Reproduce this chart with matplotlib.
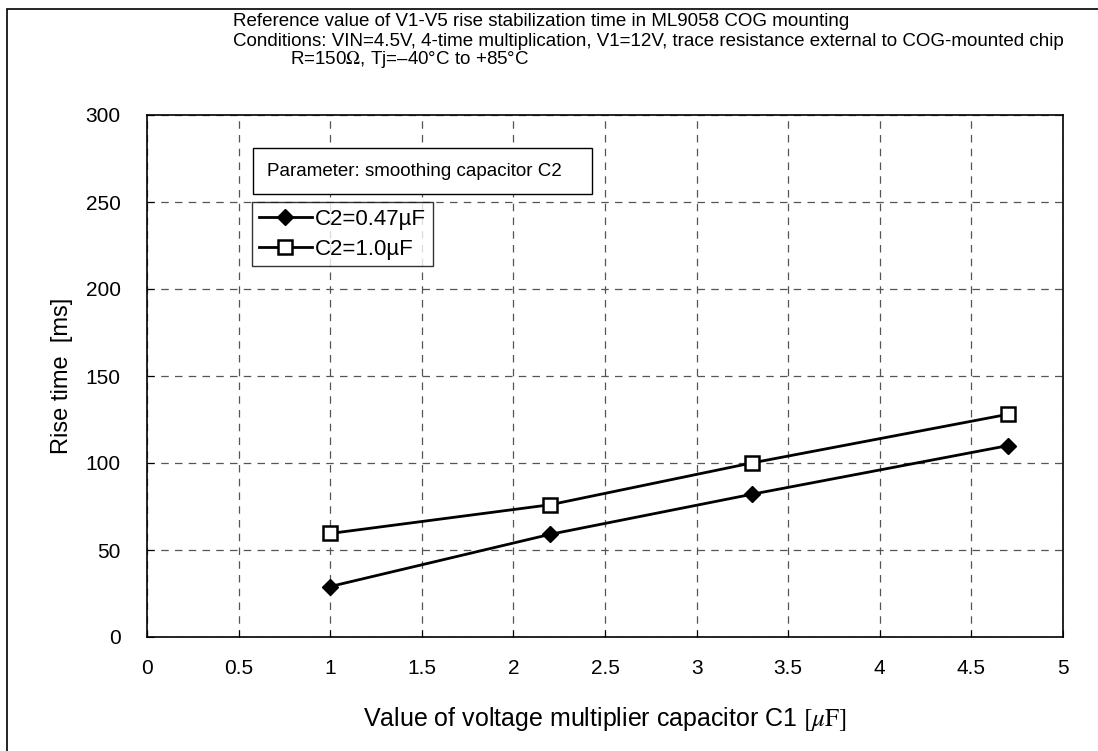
import matplotlib.pyplot as plt
from matplotlib.patches import Rectangle

plt.rcParams['font.family'] = ['Liberation Sans', 'DejaVu Sans']
plt.rcParams['mathtext.fontset'] = 'stix'

# Data
c1_values = [1.0, 2.2, 3.3, 4.7]
rise_047 = [29, 59, 82, 110]
rise_100 = [59.5, 76, 100, 128]
series_labels = ['C2=0.47\u00b5F', 'C2=1.0\u00b5F']
x_ticks = [0, 0.5, 1, 1.5, 2, 2.5, 3, 3.5, 4, 4.5, 5]
y_ticks = [0, 50, 100, 150, 200, 250, 300]

fig = plt.figure(figsize=(10.98, 7.51), dpi=100)
ax = fig.add_axes([147 / 1098, 1 - 637 / 751, (1063 - 147) / 1098, (637 - 115) / 751])

# outer frame of the figure
fig.patches.append(Rectangle((7 / 1098, -0.05), 1.1, 1 - 9 / 751 + 0.05,
                             transform=fig.transFigure, fill=False,
                             edgecolor='black', linewidth=1.2))

ax.plot(c1_values, rise_047, color='black', linewidth=2, marker='D',
        markersize=8, markerfacecolor='black', label=series_labels[0], zorder=3)
ax.plot(c1_values, rise_100, color='black', linewidth=2, marker='s',
        markersize=10, markerfacecolor='white', markeredgewidth=1.8,
        label=series_labels[1], zorder=3)

ax.set_xlim(0, 5)
ax.set_ylim(0, 300)
ax.set_xticks(x_ticks)
ax.set_xticklabels([('%g' % t) for t in x_ticks])
ax.set_yticks(y_ticks)
ax.tick_params(direction='in', length=5, labelsize=15, colors='black')
ax.tick_params(axis='y', pad=19)
ax.tick_params(axis='x', pad=16)

ax.grid(True, color='#555555', linestyle=(0, (6, 5)), linewidth=0.9)
for s in ax.spines.values():
    s.set_linewidth(1.2)

ax.set_xlabel('Value of voltage multiplier capacitor C1 $[\\mu\\mathrm{F}]$',
              fontsize=18, labelpad=19)
ax.set_ylabel('Rise time  [ms]', fontsize=17, labelpad=9)

leg = ax.legend(loc='upper left', bbox_to_anchor=((252 - 147) / 916, (637 - 202) / 522),
                frameon=True, fancybox=False, edgecolor='black', fontsize=16,
                handlelength=2.4, handletextpad=0.15, borderpad=0.3,
                labelspacing=0.4, borderaxespad=0)
leg.get_frame().set_linewidth(1.0)

ax.text((267 - 147) / 916, (637 - 171) / 522, 'Parameter: smoothing capacitor C2   ',
        transform=ax.transAxes, fontsize=13.5, va='center', ha='left',
        bbox=dict(boxstyle='square,pad=0.75', facecolor='white', edgecolor='black',
                  linewidth=1.0), zorder=4)

fig.text(233 / 1098, 1 - 22 / 751,
         'Reference value of V1-V5 rise stabilization time in ML9058 COG mounting',
         fontsize=13.5, va='center')
fig.text(233 / 1098, 1 - 41 / 751,
         'Conditions: VIN=4.5V, 4-time multiplication, V1=12V, trace resistance external to COG-mounted chip',
         fontsize=13.5, va='center')
fig.text(290 / 1098, 1 - 60 / 751,
         'R=150$\\Omega$, Tj=\u201340\u00b0C to +85\u00b0C',
         fontsize=13.5, va='center')

fig.savefig('out.png', dpi=100)
